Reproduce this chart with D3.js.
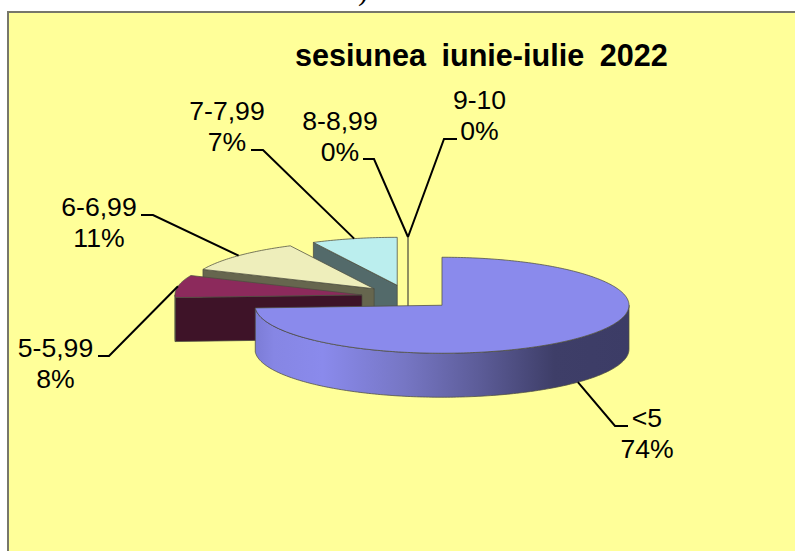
<!DOCTYPE html>
<meta charset="utf-8">
<style>

body {
  margin: 0;
  background: #fff;
}

svg {
  display: block;
}

.label {
  text-anchor: middle;
  font: 26.6px "Liberation Sans", sans-serif;
}

.title {
  font: bold 30.6px "Liberation Sans", sans-serif;
  word-spacing: 7px;
}

.leader {
  fill: none;
  stroke: #000;
  stroke-width: 2px;
}

.edge {
  stroke: #4d4d40;
  stroke-opacity: .75;
  stroke-linejoin: round;
}

</style>
<svg width="795" height="551"></svg>
<script src="https://d3js.org/d3.v7.min.js"></script>
<script>

var categories = ["<5", "5-5,99", "6-6,99", "7-7,99", "8-8,99", "9-10"],
    shares = [74.1, 7.5, 11.0, 7.4, 0, 0],
    topColors = ["#8a8aec", "#8c2a5c", "#eeeebb", "#bbeeee", "#ffff99", "#ffff99"],
    wallColors = ["url(#mainWall)", "#3e1328", "#66664e", "#536a6a", "#8a8a5c", "#8a8a5c"];

var titleText = "sesiunea iunie-iulie 2022",
    clippedText = "numar elevi care au media \u2265 5)";

// label centre, first baseline, elbow and end of the leader, per category
var labelLayout = [
  {x: 647, y: 427, elbow: [615, 426], end: [628, 426]},
  {x: 55.5, y: 357, elbow: [109, 356], end: [98, 356]},
  {x: 99, y: 216, elbow: [153, 215], end: [141, 215]},
  {x: 227, y: 120, elbow: [263, 150], end: [251, 150]},
  {x: 340, y: 130, elbow: [374, 159], end: [363, 159]},
  {x: 479.5, y: 109, elbow: [444, 139], end: [457, 139]}
];

var svg = d3.select("svg");

var width = +svg.attr("width"),
    height = +svg.attr("height");

var cx = 408,
    cy = 297,
    rx = 187,
    ry = 48,
    depth = 44,
    explode = 0.25,
    lineGap = 31;

var format = d3.format(".0f");

var xProject = d3.scaleLinear().domain([-1, 1]).range([-rx, rx]),
    yProject = d3.scaleLinear().domain([-1, 1]).range([ry, -ry]);

var total = d3.sum(shares);

var slices = d3.pie().sort(null).value(function(d) { return d; })(shares);

slices.forEach(function(d) {
  var mid = (d.startAngle + d.endAngle) / 2;
  d.cx = cx + xProject(Math.sin(mid) * explode);
  d.cy = cy + yProject(Math.cos(mid) * explode);
  d.mid = mid;
});

function rim(d, angle, drop) {
  return [d.cx + xProject(Math.sin(angle)), d.cy + yProject(Math.cos(angle)) + (drop || 0)];
}

function sweep(a0, a1) {
  var n = Math.max(2, Math.ceil((a1 - a0) * 60));
  return d3.range(n + 1).map(function(i) { return a0 + (a1 - a0) * i / n; });
}

var line = d3.line();

function topPath(d) {
  var pts = sweep(d.startAngle, d.endAngle).map(function(a) { return rim(d, a); });
  return line([[d.cx, d.cy]].concat(pts)) + "Z";
}

// the radial face at the slice's start angle, only turned to the viewer past 180 degrees
function facePath(d) {
  if (d.startAngle < Math.PI) return null;
  var p = rim(d, d.startAngle);
  return line([[d.cx, d.cy], p, [p[0], p[1] + depth], [d.cx, d.cy + depth]]) + "Z";
}

// outer wall, visible between 90 and 270 degrees
function wallPath(d) {
  var a0 = Math.max(d.startAngle, Math.PI / 2),
      a1 = Math.min(d.endAngle, Math.PI * 3 / 2);
  if (a1 <= a0) return null;
  var upper = sweep(a0, a1).map(function(a) { return rim(d, a); }),
      lower = sweep(a0, a1).reverse().map(function(a) { return rim(d, a, depth); });
  return line(upper.concat(lower)) + "Z";
}

var defs = svg.append("defs");

var gradient = defs.append("linearGradient")
    .attr("id", "mainWall");

gradient.selectAll("stop")
    .data([
      [0, "#7c7cd6"],
      [0.05, "#8686e4"],
      [0.18, "#8a8aec"],
      [0.4, "#7676c4"],
      [0.6, "#5c5c98"],
      [0.8, "#3e3e68"],
      [1, "#3c3c66"]
    ])
  .enter().append("stop")
    .attr("offset", function(d) { return d[0]; })
    .attr("stop-color", function(d) { return d[1]; });

svg.append("rect")
    .attr("x", 8)
    .attr("y", 12)
    .attr("width", width)
    .attr("height", height)
    .attr("fill", "#ffff99")
    .attr("stroke", "#77776a")
    .attr("stroke-width", 2);

svg.append("text")
    .attr("x", 368)
    .attr("y", 0)
    .attr("text-anchor", "end")
    .style("font", "30px 'Liberation Serif', serif")
    .text(clippedText);

svg.append("text")
    .attr("class", "title")
    .attr("x", 295)
    .attr("y", 66)
    .text(titleText);

// painter's order: the back slices first, the big slice last
var slice = svg.selectAll(".slice")
    .data(slices.slice().reverse())
  .enter().append("g")
    .attr("class", "slice");

slice.append("path")
    .attr("class", "edge")
    .attr("d", facePath)
    .attr("fill", function(d) { return wallColors[d.index]; })
    .attr("stroke-width", function(d) { return d.value === 0 ? 2 : 1; })
    .style("stroke", function(d) { return d.value === 0 ? wallColors[d.index] : null; });

slice.append("path")
    .attr("class", "edge")
    .attr("d", wallPath)
    .attr("fill", function(d) { return wallColors[d.index]; })
    .attr("stroke-width", 1);

slice.append("path")
    .attr("class", "edge")
    .attr("d", topPath)
    .attr("fill", function(d) { return topColors[d.index]; })
    .attr("stroke-width", 1)
    .style("display", function(d) { return d.value === 0 ? "none" : null; });

var leaderLine = d3.line();

svg.selectAll(".leader")
    .data(slices)
  .enter().append("path")
    .attr("class", "leader")
    .attr("d", function(d) {
      var at = labelLayout[d.index],
          start = rim(d, d.mid, d.mid > Math.PI / 2 && d.mid < Math.PI * 3 / 2 ? depth : 0);
      return leaderLine([start, at.elbow, at.end]);
    });

var label = svg.selectAll(".label")
    .data(slices)
  .enter().append("text")
    .attr("class", "label")
    .attr("x", function(d) { return labelLayout[d.index].x; })
    .attr("y", function(d) { return labelLayout[d.index].y; });

label.append("tspan")
    .text(function(d) { return categories[d.index]; });

label.append("tspan")
    .attr("x", function(d) { return labelLayout[d.index].x; })
    .attr("dy", lineGap)
    .text(function(d) { return format(d.value / total * 100) + "%"; });

</script>
